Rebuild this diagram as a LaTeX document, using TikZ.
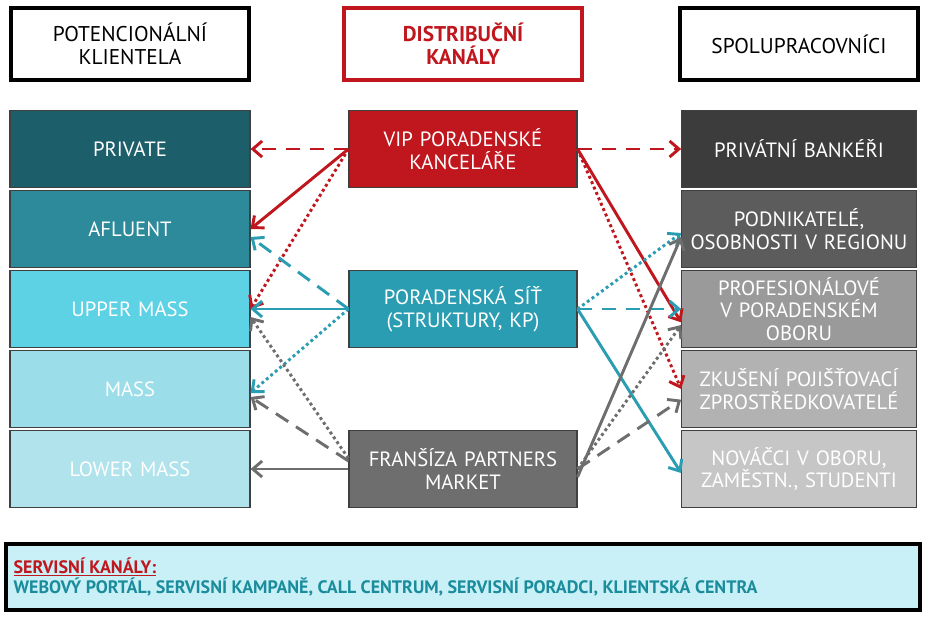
\documentclass[tikz,border=0pt]{standalone}
\usepackage{fontspec}
\setmainfont{PT Sans}
\usetikzlibrary{arrows.meta}
\definecolor{vip}{HTML}{C0161D}
\definecolor{sit}{HTML}{2B9DB2}
\definecolor{fran}{HTML}{6E6E6E}
\definecolor{cPrivate}{HTML}{1C5E6A}
\definecolor{cAfluent}{HTML}{2C8A9B}
\definecolor{cUpper}{HTML}{5CD2E4}
\definecolor{cMass}{HTML}{9BDDE8}
\definecolor{cLower}{HTML}{B0E3EC}
\definecolor{gA}{HTML}{3C3C3C}
\definecolor{gB}{HTML}{5C5C5C}
\definecolor{gC}{HTML}{9A9A9A}
\definecolor{gD}{HTML}{B2B2B2}
\definecolor{gE}{HTML}{C6C6C6}
\definecolor{servisFondo}{HTML}{C8F0F6}
\definecolor{servisTexto}{HTML}{1A8C9C}
\tikzset{
  estilo mapa/.style={
      x=0.75pt, y=-0.75pt,
      caja/.style={draw=black!75, line width=0.8pt, minimum width=180pt, minimum height=58pt,
          text width=176pt, align=center, text=white, inner sep=0pt, font=\fontsize{15.5}{17}\selectfont},
      cabeza/.style={draw=black, line width=3pt, fill=white, minimum width=179pt, minimum height=54pt,
          align=center, inner sep=0pt, font=\fontsize{16}{17}\selectfont},
      flecha/.style={-{Straight Barb[length=7pt,width=12pt]}, line width=2.2pt},
      rayas/.style={flecha, dash pattern=on 11pt off 7pt},
      puntos/.style={flecha, dash pattern=on 2.2pt off 2.2pt},
    },
}
\begin{document}
\begin{tikzpicture}[estilo mapa]
    \useasboundingbox (0,0) rectangle (928,622);
    % cabeceras
    \node[cabeza] (hk) at (130,44) {POTENCIONÁLNÍ\\KLIENTELA};
    \node[cabeza, draw=vip, text=vip, font=\fontsize{16}{17}\selectfont\bfseries] (hd) at (463,44) {DISTRIBUČNÍ\\KANÁLY};
    \node[cabeza] (hs) at (799,44) {SPOLUPRACOVNÍCI};
    % klientela
    \node[caja, fill=cPrivate] (private) at (130,149) {PRIVATE};
    \node[caja, fill=cAfluent] (afluent) at (130,229) {AFLUENT};
    \node[caja, fill=cUpper] (upper) at (130,309) {UPPER MASS};
    \node[caja, fill=cMass] (mass) at (130,389) {MASS};
    \node[caja, fill=cLower] (lower) at (130,469) {LOWER MASS};
    % kanaly
    \node[caja, fill=vip, minimum width=171pt, text width=171pt] (vipk) at (463,149) {VIP PORADENSKÉ\\KANCELÁŘE};
    \node[caja, fill=sit, minimum width=171pt, text width=171pt] (sit) at (463,309) {PORADENSKÁ SÍŤ\\(STRUKTURY, KP)};
    \node[caja, fill=fran, minimum width=171pt, text width=171pt] (fransiza) at (463,469) {FRANŠÍZA PARTNERS\\MARKET};
    % spolupracovnici
    \node[caja, fill=gA, minimum width=176pt] (bankeri) at (799,149) {PRIVÁTNÍ BANKÉŘI};
    \node[caja, fill=gB, minimum width=176pt] (podnik) at (799,229) {PODNIKATELÉ,\\OSOBNOSTI V REGIONU};
    \node[caja, fill=gC, minimum width=176pt] (profi) at (799,309) {PROFESIONÁLOVÉ\\V PORADENSKÉM\\OBORU};
    \node[caja, fill=gD, minimum width=176pt] (zkuseni) at (799,389) {ZKUŠENÍ POJIŠŤOVACÍ\\ZPROSTŘEDKOVATELÉ};
    \node[caja, fill=gE, minimum width=176pt] (novacci) at (799,469) {NOVÁČCI V OBORU,\\ZAMĚSTN., STUDENTI};
    % servis
    \node[draw=black, line width=3pt, fill=servisFondo, minimum width=686pt, minimum height=50pt,
        text width=674pt, align=left, inner sep=0pt] (servis) at (463,577)
        {\fontsize{13.5}{19}\selectfont\bfseries{\color{vip}\underline{SERVISNÍ KANÁLY:}}\\
         \color{servisTexto}WEBOVÝ PORTÁL, SERVISNÍ KAMPANĚ, CALL CENTRUM, SERVISNÍ PORADCI, KLIENTSKÁ CENTRA};
    % VIP
    \draw[rayas, vip] (vipk.west) -- (private.east);
    \draw[flecha, vip] (vipk.west) -- (afluent.east);
    \draw[puntos, vip] (vipk.west) -- (upper.east);
    \draw[rayas, vip] (vipk.east) -- (bankeri.west);
    \draw[flecha, vip] (vipk.east) -- ([yshift=-10pt]profi.west);
    \draw[puntos, vip] (vipk.east) -- (zkuseni.west);
    % sit
    \draw[rayas, sit] (sit.west) -- ([yshift=-6pt]afluent.east);
    \draw[flecha, sit] (sit.west) -- (upper.east);
    \draw[puntos, sit] (sit.west) -- ([yshift=-3pt]mass.east);
    \draw[puntos, sit] (sit.east) -- ([yshift=-3pt]podnik.west);
    \draw[rayas, sit] (sit.east) -- (profi.west);
    \draw[flecha, sit] (sit.east) -- ([yshift=-3pt]novacci.west);
    % fransiza
    \draw[flecha, fran] (fransiza.west) -- (lower.east);
    \draw[rayas, fran] ([yshift=6pt]fransiza.west) -- ([yshift=-6pt]mass.east);
    \draw[puntos, fran] ([yshift=8pt]fransiza.west) -- ([yshift=-6pt]upper.east);
    \draw[flecha, fran] ([yshift=-6pt]fransiza.east) -- ([yshift=-6pt]podnik.west);
    \draw[puntos, fran] (fransiza.east) -- ([yshift=-12pt]profi.west);
    \draw[rayas, fran] (fransiza.east) -- ([yshift=-8pt]zkuseni.west);
\end{tikzpicture}
\end{document}
